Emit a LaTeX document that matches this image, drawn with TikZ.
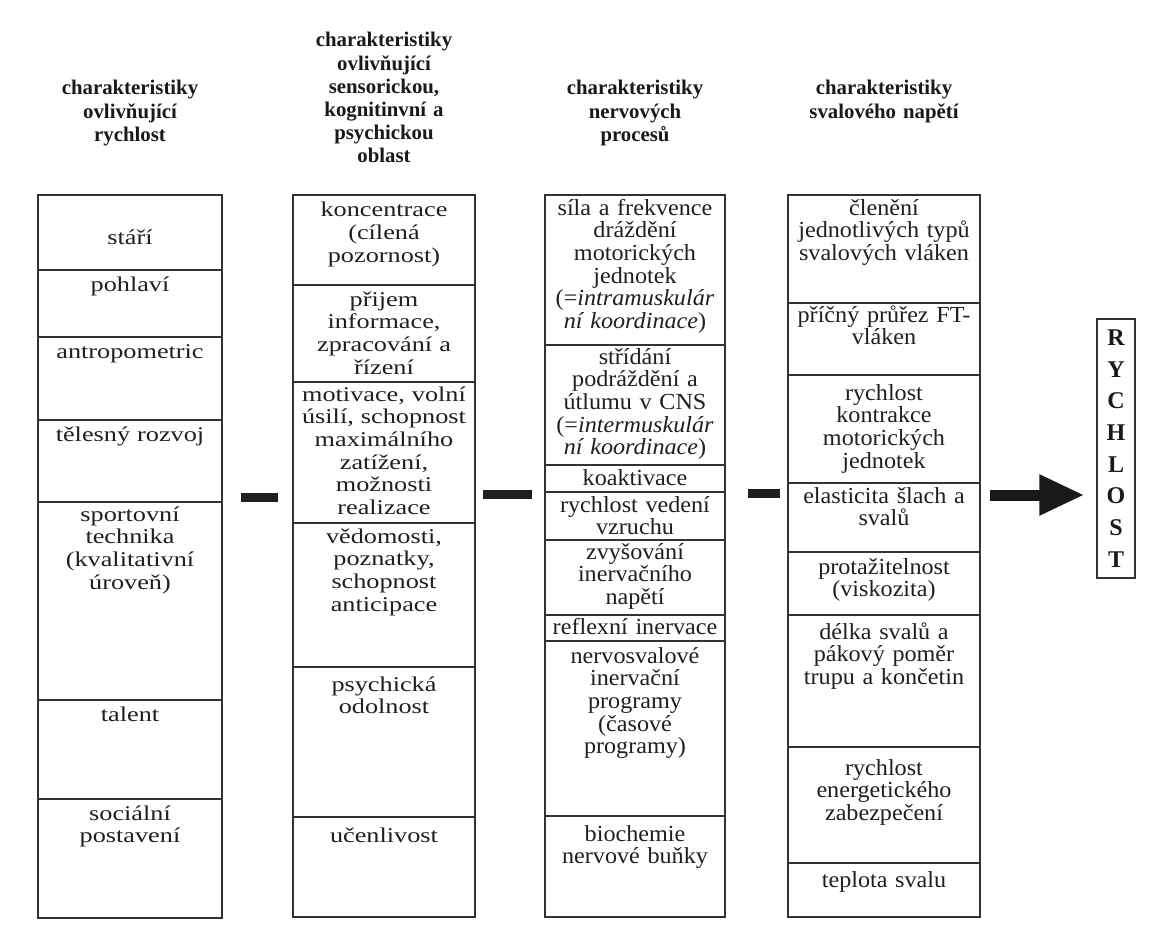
\documentclass[tikz,border=0pt]{standalone}
\usepackage{fontspec}
\setmainfont{Liberation Serif}
\newfontfamily\wideserif[FakeStretch=1.25]{Liberation Serif}
\newfontfamily\midserif[FakeStretch=1.05]{Liberation Serif}
\usetikzlibrary{arrows.meta}

\tikzset{
  cellline/.style={draw=black!80, line width=1.3pt},
  txtwide/.style={text=black!88, inner sep=0pt, align=center, anchor=base,
    font={\wideserif\fontsize{21}{22.7}\selectfont\lineskiplimit=-30pt}},
  txtmid/.style={text=black!88, inner sep=0pt, align=center, anchor=base,
    font={\midserif\fontsize{23}{22.7}\selectfont\lineskiplimit=-30pt}},
  headtxt/.style={text=black!90, inner sep=0pt, align=center, anchor=base, text width=200pt,
    font={\bfseries\fontsize{20.8}{23.2}\selectfont\lineskiplimit=-30pt}},
  dashbar/.style={line width=9pt, draw=black!88},
  bigarrow/.style={line width=11pt, draw=black!90, -{Triangle[length=45pt,width=38pt]}},
  resultbox/.style={draw=black!80, line width=1.2pt, minimum width=38pt, minimum height=259pt,
    inner sep=0pt, align=center, text=black!90,
    font={\bfseries\fontsize{24}{31.7}\selectfont\lineskiplimit=-30pt}}
}

% #1 name, #2 x1, #3 x2, #4 top, #5 bottom, #6 first-line centre y, #7 style, #8 text
\newcommand\boxcell[8]{%
  \draw[cellline] (#2,#4) rectangle (#3,#5);
  \node[#7, text width={(#3-#2-6)*1pt}] (#1) at ({(#2+#3)/2},{#6+7}) {#8};}

\begin{document}
\begin{tikzpicture}[x=1pt,y=-1pt]
\useasboundingbox (0,0) rectangle (1155,933);
\fill[white] (0,0) rectangle (1155,933);

% headers
\node[headtxt] (h1) at (130,95) {charakteristiky\\ovlivňující\\rychlost};
\node[headtxt] (h2) at (384,47) {charakteristiky\\ovlivňující\\sensorickou,\\kognitinvní a\\psychickou\\oblast};
\node[headtxt] (h3) at (635,95) {charakteristiky\\nervových\\procesů};
\node[headtxt] (h4) at (884,95) {charakteristiky\\svalového napětí};

% column 1
\boxcell{a1}{38}{222}{195}{270}{237}{txtwide}{stáří}
\boxcell{a2}{38}{222}{270}{337}{284}{txtwide}{pohlaví}
\boxcell{a3}{38}{222}{337}{420}{351}{txtwide}{antropometric}
\boxcell{a4}{38}{222}{420}{502}{434}{txtwide}{tělesný rozvoj}
\boxcell{a5}{38}{222}{502}{700}{514}{txtwide}{sportovní\\technika\\(kvalitativní\\úroveň)}
\boxcell{a6}{38}{222}{700}{799}{714}{txtwide}{talent}
\boxcell{a7}{38}{222}{799}{918}{813}{txtwide}{sociální\\postavení}

% column 2
\boxcell{b1}{293}{475}{195}{285}{210}{txtwide}{koncentrace\\(cílená\\pozornost)}
\boxcell{b2}{293}{475}{285}{382}{299}{txtwide}{přijem\\informace,\\zpracování a\\řízení}
\boxcell{b3}{293}{475}{382}{523}{394}{txtwide}{motivace, volní\\úsilí, schopnost\\maximálního\\zatížení,\\možnosti\\realizace}
\boxcell{b4}{293}{475}{523}{667}{536}{txtwide}{vědomosti,\\poznatky,\\schopnost\\anticipace}
\boxcell{b5}{293}{475}{667}{817}{684}{txtwide}{psychická\\odolnost}
\boxcell{b6}{293}{475}{817}{917}{835}{txtwide}{učenlivost}

% column 3
\boxcell{c1}{545}{725}{195}{345}{208}{txtmid}{síla a frekvence\\dráždění\\motorických\\jednotek\\(=\textit{intramuskulár}\\\textit{ní koordinace})}
\boxcell{c2}{545}{725}{345}{465}{357}{txtmid}{střídání\\podráždění a\\útlumu v CNS\\(=\textit{intermuskulár}\\\textit{ní koordinace})}
\boxcell{c3}{545}{725}{465}{492}{478}{txtmid}{koaktivace}
\boxcell{c4}{545}{725}{492}{540}{505}{txtmid}{rychlost vedení\\vzruchu}
\boxcell{c5}{545}{725}{540}{615}{552}{txtmid}{zvyšování\\inervačního\\napětí}
\boxcell{c6}{545}{725}{615}{641}{627}{txtmid}{reflexní inervace}
\boxcell{c7}{545}{725}{641}{816}{656}{txtmid}{nervosvalové\\inervační\\programy\\(časové\\programy)}
\boxcell{c8}{545}{725}{816}{917}{834}{txtmid}{biochemie\\nervové buňky}

% column 4
\boxcell{d1}{788}{980}{195}{303}{208}{txtmid}{členění\\jednotlivých typů\\svalových vláken}
\boxcell{d2}{788}{980}{303}{375}{315}{txtmid}{příčný průřez FT-\\vláken}
\boxcell{d3}{788}{980}{375}{483}{393}{txtmid}{rychlost\\kontrakce\\motorických\\jednotek}
\boxcell{d4}{788}{980}{483}{552}{496}{txtmid}{elasticita šlach a\\svalů}
\boxcell{d5}{788}{980}{552}{615}{567}{txtmid}{protažitelnost\\(viskozita)}
\boxcell{d6}{788}{980}{615}{747}{632}{txtmid}{délka svalů a\\pákový poměr\\trupu a končetin}
\boxcell{d7}{788}{980}{747}{863}{768}{txtmid}{rychlost\\energetického\\zabezpečení}
\boxcell{d8}{788}{980}{863}{917}{880}{txtmid}{teplota svalu}

% result box
\node[resultbox] (rych) at (1116,448.5) {R\\Y\\C\\H\\L\\O\\S\\T};

% dashes between columns
\coordinate (p1a) at (241,497); \coordinate (p1b) at (278,497);
\coordinate (p2a) at (483,494); \coordinate (p2b) at (532,494);
\coordinate (p3a) at (748,493); \coordinate (p3b) at (780,493);
\draw[dashbar] (p1a) -- (p1b);
\draw[dashbar] (p2a) -- (p2b);
\draw[dashbar] (p3a) -- (p3b);

% big arrow
\coordinate (arrowstart) at (990,495);
\draw[bigarrow, shorten >=12pt] (arrowstart) -- (arrowstart -| rych.west);
\end{tikzpicture}
\end{document}
